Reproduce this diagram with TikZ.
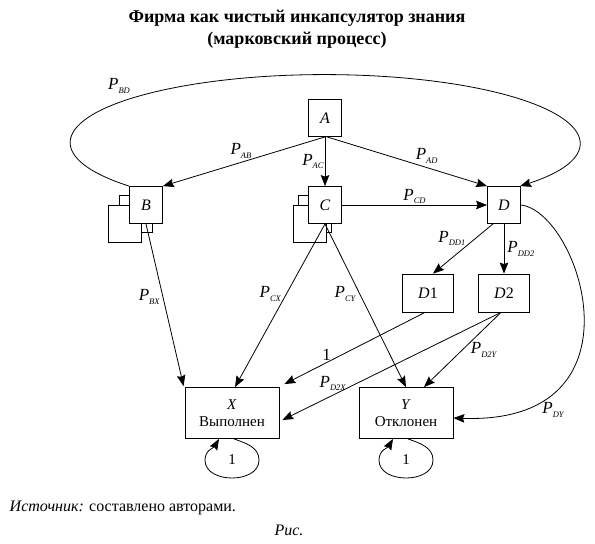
\documentclass[tikz,border=0pt]{standalone}
\usepackage{fontspec}
\setmainfont{Liberation Serif}
\usepackage{tikz}
\usetikzlibrary{arrows.meta}
\usetikzlibrary{positioning,calc}
\usetikzlibrary{backgrounds}

% probability label: italic P with a small subscript
\newcommand{\prb}[1]{\textit{P}\raisebox{-0.45ex}{\fontsize{8.5}{9}\selectfont\itshape #1}}

\tikzset{
    state/.style={
           rectangle,
           draw=black, line width=0.8pt,
           fill=white,
           minimum width=33pt,
           minimum height=37pt,
           inner sep=2pt,
           text centered,
           font=\fontsize{16}{18}\selectfont\itshape,
           },
    state2/.style={
           rectangle,
           draw=black, line width=0.8pt,
           fill=white,
           minimum width=51pt,
           minimum height=38pt,
           inner sep=2pt,
           text centered,
           font=\fontsize{16}{18}\selectfont,
           },
    final/.style={
           rectangle,
           draw=black, line width=0.8pt,
           minimum width=94pt,
           minimum height=51pt,
           inner sep=2pt,
           align=center,
           font=\fontsize{15}{17}\selectfont,
           },
    shadow/.style={
           rectangle,
           draw=black, line width=0.8pt,
           fill=white,
           minimum width=33pt,
           minimum height=37pt,
           },
    lbl/.style={
           font=\fontsize{17}{19}\selectfont,
           inner sep=1pt,
           },
}

\begin{document}
\begin{tikzpicture}
[
x=1pt,y=1pt,
->,>={Stealth[length=11pt,width=8.5pt,inset=1.5pt]},
line width=0.8pt
]

 \useasboundingbox (0,0) rectangle (595,-544);

 % Title
 \node[font=\fontsize{18}{22}\selectfont\bfseries] (TITLE1) at (297,-18)
 {Фирма как чистый инкапсулятор знания};
 \node[font=\fontsize{18}{22}\selectfont\bfseries] (TITLE2) at (297,-40)
 {(марковский процесс)};

 % Start node
 \node[state] (A) at (325,-118) {A};

 % Middle row
 \node[state,
 below of=A,
 node distance=87pt] (C)
 {C};

 \node[state,
 left of=C,
 node distance=179pt] (B)
 {B};

 \node[state,
 right of=C,
 node distance=179pt] (D)
 {D};

 % stacked copies behind B and C
 \begin{scope}[on background layer]
 \node[shadow,xshift=-10pt,yshift=-8.5pt] (B2) at (B) {};
 \node[shadow,xshift=-21pt,yshift=-18.5pt] (B3) at (B) {};
 \node[shadow,xshift=-10pt,yshift=-8.5pt] (C2) at (C) {};
 \node[shadow,xshift=-15pt,yshift=-18.5pt] (C3) at (C) {};
 \end{scope}

 % Next nodes: D1, D2
 \node[state2,
 below of=D,
 xshift=-76pt,
 node distance=88pt] (D1)
 {\textit{D}1};

 \node[state2,
 below of=D,
 node distance=88pt] (D2)
 {\textit{D}2};

 % Final nodes
 \node[final,
 below of=C,
 xshift=-93pt,
 node distance=208pt] (X)
 {\textit{X}\\Выполнен};

 \node[final,
 below of=C,
 xshift=81pt,
 node distance=208pt] (Y)
 {\textit{Y}\\Отклонен};

 % draw the paths and print the probabilities
 \path
 (A.south) edge node[lbl,pos=0.45,above left=-1pt] {\prb{AB}} (B.north east)
 (A) edge node[lbl,left] {\prb{AC}} (C)
 ([xshift=2pt]A.south) edge node[lbl,pos=0.55,above right=-1pt] {\prb{AD}} (D.north west)
 (C) edge node[lbl,above] {\prb{CD}} (D)
 ([xshift=-11pt]D.south) edge node[lbl,pos=0.45,above left=-1pt] {\prb{DD1}} ([xshift=5pt]D1.north)
 (D.south) edge node[lbl,right=2pt] {\prb{DD2}} (D2.north)
 (B.south) edge node[lbl,pos=0.45,left=2pt] {\prb{BX}} ([xshift=-1pt,yshift=1pt]X.north west)
 (C.south) edge node[lbl,pos=0.43,left=4pt] {\prb{CX}} ([xshift=3pt]X.north)
 (C.south) edge node[lbl,pos=0.43,left=3pt] {\prb{CY}} (Y.north)
 ([xshift=-3pt]D1.south) edge node[lbl,pos=0.7,above=1pt] {1} ([xshift=5pt,yshift=3pt]X.north east)
 ([xshift=-3pt]D2.south) edge node[lbl,pos=0.77,above=3pt] {\prb{D2X}} ([xshift=3pt,yshift=-7pt]X.east)
 ([xshift=-3pt]D2.south) edge node[lbl,pos=0.5,right=7pt] {\prb{D2Y}} ([xshift=18pt]Y.north)
 ;

 % long connections
 \draw (B.north west) arc[start angle=219.8, end angle=-39.8,
   x radius=254.5, y radius=68];
 \node[lbl] (PBD) at (119,-86) {\prb{BD}};

 \draw (D.east) .. controls (580,-212) and (650,-425) .. ([yshift=-5pt]Y.east);
 \node[lbl] (PDY) at (553,-410) {\prb{DY}};

 % loops of the final states
 \draw ([xshift=2pt]X.south) to[out=-20,in=90] (259,-460)
   to[out=-90,in=0] (232,-478)
   to[out=180,in=-90] (205,-460)
   to[out=90,in=-120] ([xshift=-13pt]X.south);
 \node[lbl,font=\fontsize{15}{17}\selectfont] (LX) at (232,-460) {1};

 \draw ([xshift=2pt]Y.south) to[out=-20,in=90] (433,-460)
   to[out=-90,in=0] (406,-478)
   to[out=180,in=-90] (379,-460)
   to[out=90,in=-120] ([xshift=-13pt]Y.south);
 \node[lbl,font=\fontsize{15}{17}\selectfont] (LY) at (406,-460) {1};

 % Source and caption
 \node[anchor=west,font=\fontsize{16}{18}\selectfont] (SRC) at (6,-508)
 {\textit{Источник:} составлено авторами.};
 \node[font=\fontsize{16}{18}\selectfont\itshape] (CAP) at (289,-530) {Рис.};

\end{tikzpicture}
\end{document}
